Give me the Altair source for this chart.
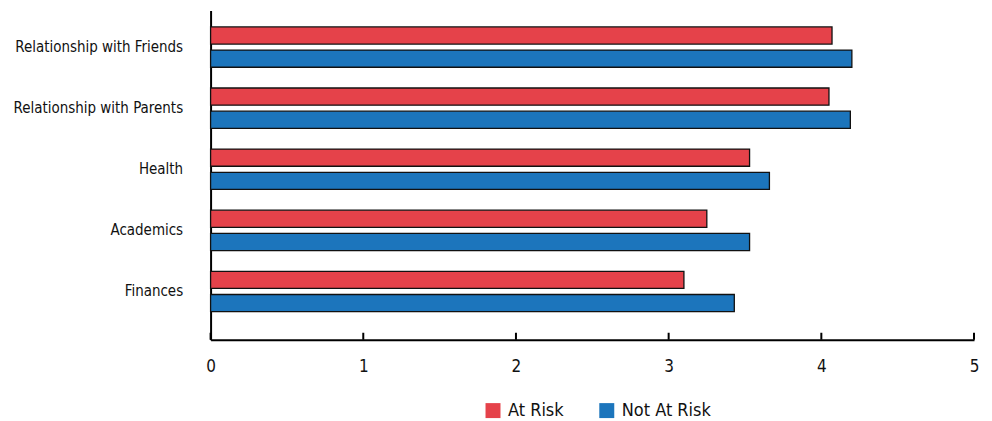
import altair as alt
import pandas as pd

categories = ["Relationship with Friends", "Relationship with Parents", "Health", "Academics", "Finances"]
series = ["At Risk", "Not At Risk"]
at_risk = [4.07, 4.05, 3.53, 3.25, 3.10]
not_at_risk = [4.20, 4.19, 3.66, 3.53, 3.43]
tick_values = [0, 1, 2, 3, 4, 5]
colors = ["#E5424A", "#1C75BC"]

rows = []
for c, a, n in zip(categories, at_risk, not_at_risk):
    rows.append({"category": c, "group": series[0], "value": a})
    rows.append({"category": c, "group": series[1], "value": n})
df = pd.DataFrame(rows)
ticks_df = pd.DataFrame({"t": tick_values})

FONT = "DejaVu Sans Condensed, sans-serif"

bars = alt.Chart(df).mark_bar(stroke="#111111", strokeWidth=1.3).encode(
    x=alt.X("value:Q", scale=alt.Scale(domain=[0, 5], nice=False),
            axis=alt.Axis(values=tick_values, format="d", title=None, grid=False, ticks=False,
                          labelFlush=False,
                          domainColor="#000000", domainWidth=2, labelFontSize=17,
                          labelColor="#111111", labelPadding=19, labelFont=FONT)),
    y=alt.Y("category:N", sort=categories,
            scale=alt.Scale(paddingInner=0.34, paddingOuter=0.365, align=0.37),
            axis=alt.Axis(title=None, ticks=False, domainColor="#000000", domainWidth=2,
                          labelFontSize=15, labelColor="#111111", labelPadding=28,
                          labelFont=FONT, labelLimit=400)),
    yOffset=alt.YOffset("group:N", sort=series, scale=alt.Scale(paddingInner=0.26)),
    color=alt.Color("group:N", sort=series,
                    scale=alt.Scale(domain=series, range=colors),
                    legend=alt.Legend(title=None, orient="none", direction="horizontal",
                                      legendX=274, legendY=392, symbolType="square",
                                      symbolSize=225, symbolStrokeWidth=0,
                                      labelFontSize=18, labelFont=FONT, labelColor="#111111",
                                      labelOffset=6, columnPadding=34)),
)

tick_marks = alt.Chart(ticks_df).mark_rule(color="#000000", strokeWidth=2).encode(
    x=alt.X("t:Q"),
    y=alt.value(323),
    y2=alt.value(330),
)

chart = alt.layer(bars, tick_marks).properties(
    width=765, height=330,
    padding={"top": 2, "left": 4, "right": 5, "bottom": 0},
).configure(font=FONT).configure_view(strokeWidth=0, stroke=None)

chart.save("out.html", embed_options={"renderer": "svg", "actions": False})
